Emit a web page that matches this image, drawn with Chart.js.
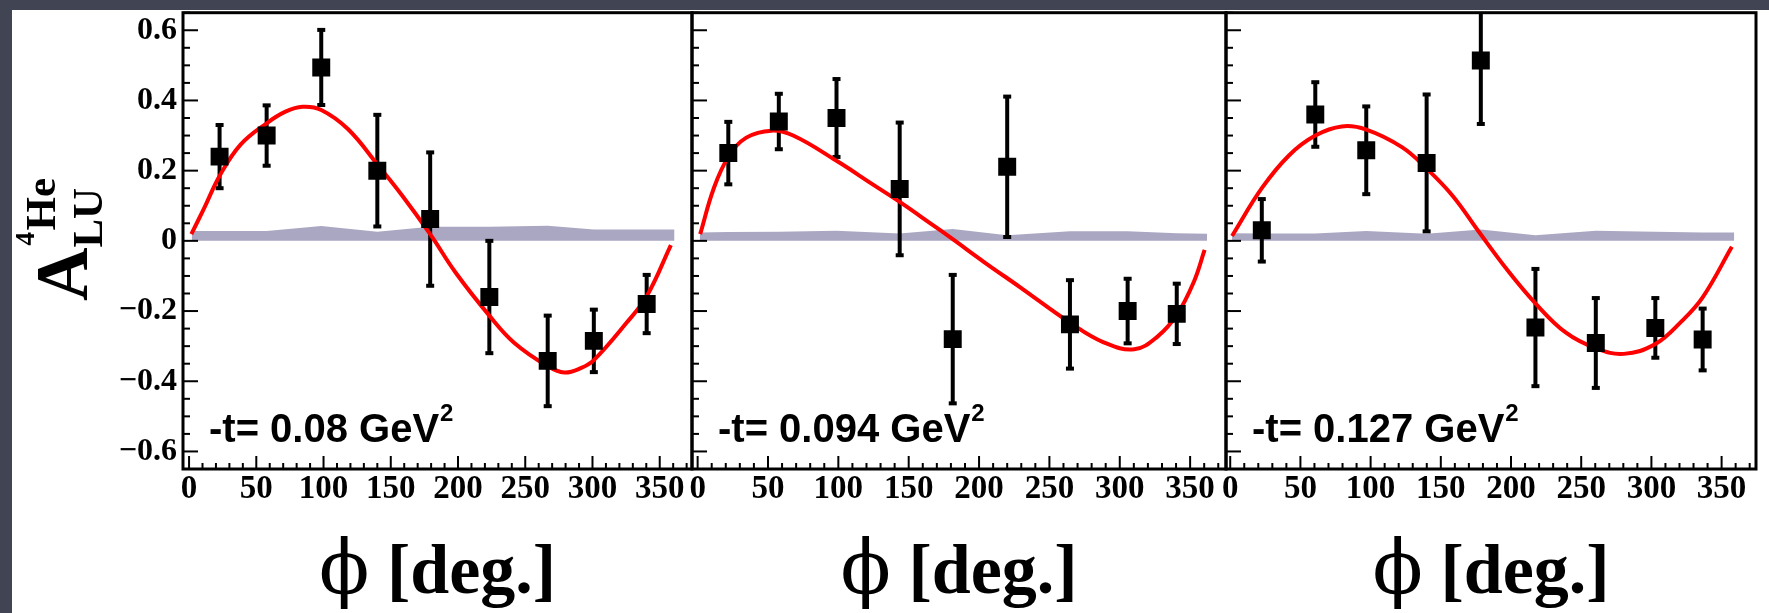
<!DOCTYPE html>
<html>
<head>
<meta charset="utf-8">
<script src="https://cdn.jsdelivr.net/npm/chart.js@4.4.1/dist/chart.umd.min.js"></script>
<style>
html, body { margin: 0; padding: 0; background: #414553; }
#wrap { position: relative; width: 1769px; height: 613px; overflow: hidden; background: #414553; }
#paper { position: absolute; left: 12px; top: 10px; right: 0; bottom: 0; background: #fff; }
canvas { position: absolute; left: 0; top: 0; }
</style>
</head>
<body>
<div id="wrap">
  <div id="paper"></div>
  <canvas id="p1" width="1769" height="613"></canvas>
  <canvas id="p2" width="1769" height="613"></canvas>
  <canvas id="p3" width="1769" height="613"></canvas>
</div>
<script>
// axis ticks
var xTicks = [0, 50, 100, 150, 200, 250, 300, 350];
var yTicks = [0.6, 0.4, 0.2, 0, -0.2, -0.4, -0.6];
var yTickText = ['0.6', '0.4', '0.2', '0', '\u22120.2', '\u22120.4', '\u22120.6'];
var tValues = ['0.08', '0.094', '0.127'];

// -t = 0.08
var phi1 = [22.7, 57.7, 98.3, 140, 179.3, 223.3, 266.7, 301, 340.3];
var asym1 = [0.24, 0.30, 0.494, 0.20, 0.062, -0.16, -0.342, -0.285, -0.18];
var err1 = [0.09, 0.086, 0.107, 0.159, 0.19, 0.16, 0.129, 0.089, 0.083];
var fitPhi1 = [1.7, 11.7, 22.7, 38.3, 57.7, 71.7, 84.3, 98.3, 118.3, 140, 158.3, 179.3, 198.3, 223.3, 241.7, 266.7, 279, 291.7, 301, 325, 340.3, 358.3];
var fit1 = [0.019, 0.097, 0.185, 0.274, 0.335, 0.368, 0.382, 0.373, 0.318, 0.218, 0.13, 0.019, -0.091, -0.213, -0.29, -0.357, -0.375, -0.362, -0.34, -0.235, -0.158, -0.012];
var sysPhi1 = [2, 22.7, 57.7, 98.3, 140, 179.3, 223.3, 266.7, 301, 340.3, 361];
var sys1 = [0.028, 0.028, 0.028, 0.042, 0.026, 0.04, 0.04, 0.043, 0.032, 0.032, 0.032];

// -t = 0.094
var phi2 = [21.8, 57.7, 98.7, 143.6, 181.3, 220, 264.6, 305.6, 340.5];
var asym2 = [0.25, 0.34, 0.35, 0.148, -0.28, 0.211, -0.238, -0.2, -0.208];
var err2 = [0.089, 0.079, 0.111, 0.189, 0.183, 0.2, 0.126, 0.092, 0.086];
var fitPhi2 = [1.8, 11.5, 21.8, 34.6, 52.6, 67.9, 98.7, 124.4, 143.6, 165.4, 180.8, 203.8, 229.5, 264.6, 288.5, 310.3, 327, 340.5, 352.6, 360.3];
var fit2 = [0.019, 0.15, 0.239, 0.294, 0.314, 0.3, 0.228, 0.161, 0.111, 0.05, 0.006, -0.061, -0.133, -0.233, -0.289, -0.309, -0.272, -0.211, -0.117, -0.026];
var sysPhi2 = [1.5, 21.8, 57.7, 98.7, 143.6, 181.3, 220, 264.6, 305.6, 340.5, 362];
var sys2 = [0.024, 0.025, 0.026, 0.029, 0.021, 0.034, 0.016, 0.027, 0.027, 0.022, 0.02];

// -t = 0.127
var phi3 = [22.5, 60.6, 96.9, 139.9, 178.5, 217.4, 260.4, 302.8, 336.5];
var asym3 = [0.03, 0.36, 0.258, 0.222, 0.514, -0.247, -0.291, -0.248, -0.281];
var err3 = [0.089, 0.092, 0.125, 0.195, 0.181, 0.167, 0.128, 0.085, 0.088];
var fitPhi3 = [1.3, 22.5, 42, 60.6, 79.5, 96.9, 122.3, 139.9, 158.5, 176.7, 197.4, 217.4, 238.9, 260.4, 280.3, 302.8, 321.8, 336.5, 357.3];
var fit3 = [0.014, 0.15, 0.244, 0.3, 0.326, 0.317, 0.267, 0.206, 0.128, 0.028, -0.083, -0.178, -0.261, -0.306, -0.322, -0.294, -0.228, -0.161, -0.017];
var sysPhi3 = [1.3, 22.5, 60.6, 96.9, 139.9, 178.5, 217.4, 260.4, 302.8, 336.5, 359];
var sys3 = [0.022, 0.021, 0.021, 0.028, 0.02, 0.032, 0.016, 0.029, 0.026, 0.024, 0.024];

// panel layout
var edges = [0, 183, 692, 1226, 1756];
var xLimits = [[-4.5, 374], [-4, 375.5], [-3, 374.5]];
var W = 1769;

function pts(xs, ys) {
  return xs.map(function(x, i) { return { x: x, y: ys[i] }; });
}

function drawErrors(chart, phi, asym, err) {
  var ctx = chart.ctx, xs = chart.scales.x, ys = chart.scales.y, a = chart.chartArea;
  ctx.save();
  ctx.beginPath();
  ctx.rect(a.left, a.top, a.right - a.left, a.bottom - a.top);
  ctx.clip();
  ctx.strokeStyle = '#000';
  ctx.fillStyle = '#000';
  ctx.lineWidth = 4;
  phi.forEach(function(p, i) {
    var x = xs.getPixelForValue(p);
    var yHi = ys.getPixelForValue(asym[i] + err[i]);
    var yLo = ys.getPixelForValue(asym[i] - err[i]);
    ctx.beginPath();
    ctx.moveTo(x, yLo);
    ctx.lineTo(x, yHi);
    ctx.stroke();
    ctx.fillRect(x - 4, yHi - 2, 8, 4);
    ctx.fillRect(x - 4, yLo - 2, 8, 4);
  });
  ctx.restore();
}

function drawAxes(chart) {
  var ctx = chart.ctx, a = chart.chartArea, xs = chart.scales.x, ys = chart.scales.y;
  ctx.save();
  ctx.strokeStyle = '#000';
  ctx.lineWidth = 2;
  // y ticks, pointing inwards
  for (var k = -13; k <= 13; k++) {
    var v = k * 0.05;
    if (v < ys.min || v > ys.max) continue;
    var y = ys.getPixelForValue(v);
    var len = (k % 4 === 0) ? 15 : 7;
    ctx.beginPath();
    ctx.moveTo(a.left, y);
    ctx.lineTo(a.left + len, y);
    ctx.stroke();
  }
  // x ticks
  for (var d = 0; d <= 370; d += 10) {
    var x = xs.getPixelForValue(d);
    var l = (d % 50 === 0) ? 13 : 6;
    ctx.beginPath();
    ctx.moveTo(x, a.bottom);
    ctx.lineTo(x, a.bottom - l);
    ctx.stroke();
  }
  ctx.lineWidth = 3;
  ctx.strokeRect(a.left, a.top, a.right - a.left, a.bottom - a.top);
  ctx.restore();
}

function drawTLabel(chart, t) {
  var ctx = chart.ctx, a = chart.chartArea;
  ctx.save();
  ctx.fillStyle = '#000';
  ctx.textBaseline = 'alphabetic';
  ctx.font = 'bold 40px "Liberation Sans", Arial, sans-serif';
  var s = '-t= ' + t + ' GeV';
  var x = a.left + 26;
  ctx.fillText(s, x, 442);
  var w = ctx.measureText(s).width;
  ctx.font = 'bold 24px "Liberation Sans", Arial, sans-serif';
  ctx.fillText('2', x + w + 1, 421);
  ctx.restore();
}

function drawXTitle(chart) {
  var ctx = chart.ctx, a = chart.chartArea;
  var cx = (a.left + a.right) / 2, base = 593;
  ctx.save();
  ctx.fillStyle = '#000';
  ctx.textBaseline = 'alphabetic';
  ctx.font = '74px "DejaVu Serif", serif';
  var p = '\u03d5';
  var wp = ctx.measureText(p).width;
  ctx.font = 'bold 70px "Liberation Serif", serif';
  var rest = ' [deg.]';
  var wr = ctx.measureText(rest).width;
  var x0 = cx - (wp + wr) / 2;
  ctx.fillText(rest, x0 + wp, base);
  ctx.font = '74px "DejaVu Serif", serif';
  ctx.fillText(p, x0, base);
  ctx.restore();
}

function drawYTitle(chart) {
  var ctx = chart.ctx;
  ctx.save();
  ctx.fillStyle = '#000';
  ctx.textBaseline = 'alphabetic';
  ctx.translate(87, 301);
  ctx.rotate(-Math.PI / 2);
  ctx.font = 'bold 74px "Liberation Serif", serif';
  ctx.fillText('A', 0, 0);
  var w = ctx.measureText('A').width;
  ctx.font = 'bold 43px "Liberation Serif", serif';
  ctx.fillText('LU', w, 15);
  ctx.fillText('He', w + 17, -32);
  ctx.font = 'bold 27px "Liberation Serif", serif';
  ctx.fillText('4', w + 2, -53);
  ctx.restore();
}

function makePanel(k, id, phi, asym, err, fitPhi, fit, sysPhi, sys) {
  var first = k === 0;
  var deco = {
    id: 'deco' + k,
    afterDatasetDraw: function(chart, args) {
      if (args.index === 0) drawErrors(chart, phi, asym, err);
    },
    afterDraw: function(chart) {
      drawAxes(chart);
      drawTLabel(chart, tValues[k]);
      drawXTitle(chart);
      if (first) drawYTitle(chart);
    }
  };
  return new Chart(document.getElementById(id), {
    type: 'line',
    data: {
      datasets: [
        { data: pts(sysPhi, sys), fill: 'origin', backgroundColor: 'rgb(170,167,194)',
          borderWidth: 0, pointRadius: 0, tension: 0, order: 3 },
        { data: pts(fitPhi, fit), fill: false, borderColor: '#ff0000', borderWidth: 4,
          pointRadius: 0, tension: 0.4, order: 2 },
        { data: pts(phi, asym), showLine: false, pointStyle: 'rect', pointRadius: 12.7,
          pointBackgroundColor: '#000', pointBorderWidth: 0, order: 1 }
      ]
    },
    options: {
      responsive: false,
      animation: false,
      devicePixelRatio: 1,
      events: [],
      layout: { padding: { left: first ? 0 : edges[k + 1], right: W - edges[k + 2], top: 11, bottom: 0 } },
      plugins: { legend: { display: false }, tooltip: { enabled: false } },
      scales: {
        x: {
          type: 'linear',
          min: xLimits[k][0],
          max: xLimits[k][1],
          afterBuildTicks: function(s) { s.ticks = xTicks.map(function(v) { return { value: v }; }); },
          afterFit: function(s) { s.height = 144; s.paddingLeft = 0; s.paddingRight = 0; },
          grid: { display: false, drawTicks: false },
          border: { display: false },
          ticks: {
            color: '#000', padding: 4, maxRotation: 0, autoSkip: false,
            font: { family: '"Liberation Serif", serif', weight: 'bold', size: 33, lineHeight: 1 }
          }
        },
        y: {
          min: -0.65,
          max: 0.65,
          afterBuildTicks: function(s) { s.ticks = yTicks.map(function(v) { return { value: v }; }); },
          afterFit: function(s) { s.width = first ? 183 : 0; s.paddingTop = 0; s.paddingBottom = 0; },
          grid: { display: false, drawTicks: false },
          border: { display: false },
          ticks: {
            display: first, color: '#000', padding: 6,
            font: { family: '"Liberation Serif", serif', weight: 'bold', size: 32, lineHeight: 1 },
            callback: function(v, i) { return yTickText[i]; }
          }
        }
      }
    },
    plugins: [deco]
  });
}

// panel k spans edges[k+1] .. edges[k+2]
makePanel(0, 'p1', phi1, asym1, err1, fitPhi1, fit1, sysPhi1, sys1);
makePanel(1, 'p2', phi2, asym2, err2, fitPhi2, fit2, sysPhi2, sys2);
makePanel(2, 'p3', phi3, asym3, err3, fitPhi3, fit3, sysPhi3, sys3);
</script>
</body>
</html>
